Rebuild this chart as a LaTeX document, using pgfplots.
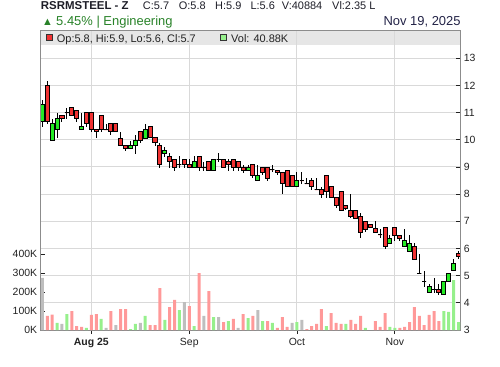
\documentclass[border=0pt]{standalone}
\usepackage{fontspec}
\setmainfont{Liberation Sans}
\usepackage{pgfplots}
\usepackage{pgfplotstable}
\usepgfplotslibrary{statistics}
\pgfplotsset{compat=1.18}

\definecolor{cRed}{RGB}{240,50,50}
\definecolor{cGreen}{RGB}{36,234,36}
\definecolor{vRed}{RGB}{255,153,153}
\definecolor{vGreen}{RGB}{150,240,140}
\definecolor{vGray}{RGB}{190,190,190}
\definecolor{bandGray}{RGB}{230,230,230}
\definecolor{gridGray}{RGB}{217,217,217}
\definecolor{frameGray}{RGB}{140,140,140}
\definecolor{labelCol}{RGB}{34,34,34}
\definecolor{titleCol}{RGB}{30,30,40}
\definecolor{upGreen}{RGB}{40,130,40}
\definecolor{dateCol}{RGB}{34,34,70}

% candles: i O H L C  (close <= open)
\pgfplotstableread{
i O H L C
1 12.00 12.18 10.59 10.68
4 10.88 10.88 10.65 10.77
5 11.00 11.18 10.77 11.00
6 11.18 11.18 10.88 10.88
7 11.07 11.07 10.65 10.77
9 11.00 11.00 10.48 10.59
10 11.00 11.00 10.28 10.37
11 10.37 10.37 10.06 10.30
12 10.88 10.88 10.30 10.37
13 10.37 10.59 10.37 10.37
14 10.59 10.59 10.19 10.30
15 10.59 10.59 10.30 10.30
16 10.06 10.30 9.78 9.78
17 9.78 9.78 9.60 9.67
20 10.30 10.30 9.89 9.97
22 10.48 10.48 10.07 10.07
23 10.07 10.07 9.78 9.89
24 9.78 9.89 8.98 9.09
26 9.38 9.50 8.98 9.19
27 9.28 9.28 8.87 8.98
28 9.09 9.39 8.98 9.09
29 9.28 9.28 8.98 9.09
30 9.09 9.28 8.98 8.98
32 9.39 9.39 8.87 8.98
33 8.98 9.19 8.87 8.98
34 9.19 9.19 8.87 8.87
36 9.28 9.50 9.19 9.28
37 9.28 9.28 8.98 8.98
38 9.19 9.28 8.87 9.09
39 9.28 9.28 8.87 8.98
40 9.20 9.20 8.87 8.98
41 8.98 9.09 8.78 8.87
43 9.09 9.09 8.58 8.69
45 8.98 8.98 8.69 8.80
46 8.98 8.98 8.49 8.58
47 8.90 9.09 8.80 8.90
48 8.87 8.87 8.69 8.80
49 8.80 8.80 7.99 8.39
50 8.87 8.87 8.28 8.28
51 8.69 8.69 8.28 8.28
53 8.50 8.80 8.39 8.50
54 8.39 8.58 8.39 8.39
55 8.50 8.58 8.17 8.28
56 8.17 8.58 8.17 8.17
57 8.17 8.28 7.87 7.99
58 8.69 8.69 7.87 8.10
59 8.28 8.28 7.87 7.87
60 7.87 7.87 7.48 7.59
61 8.10 8.10 7.41 7.41
62 7.59 7.59 7.41 7.48
63 7.41 7.99 7.11 7.19
64 7.41 7.41 7.11 7.11
65 7.19 7.29 6.37 6.59
66 7.00 7.00 6.59 6.70
67 6.89 6.89 6.79 6.79
68 6.72 7.00 6.59 6.60
69 6.50 6.70 6.37 6.50
70 6.79 6.79 5.99 6.06
72 6.79 6.79 6.27 6.48
73 6.48 6.48 6.27 6.37
76 6.08 6.19 5.60 5.60
77 5.08 5.78 5.08 5.08
78 4.79 5.19 4.59 4.79
80 4.50 4.90 4.38 4.50
81 4.50 4.69 4.29 4.38
85 5.80 5.90 5.60 5.70
}\redT

% candles: close > open
\pgfplotstableread{
i O H L C
0 10.68 11.47 10.47 11.29
2 9.97 10.77 9.97 10.59
3 10.37 11.00 10.06 10.77
8 10.37 11.00 10.37 10.48
18 9.67 9.97 9.67 9.78
19 9.78 10.19 9.47 9.97
21 10.06 10.59 10.06 10.37
25 9.50 9.72 9.38 9.61
31 8.98 9.39 8.98 9.19
35 8.87 9.28 8.87 9.28
42 8.87 9.09 8.87 8.98
44 8.50 9.09 8.50 8.69
52 8.28 8.80 8.28 8.50
71 6.19 6.48 6.19 6.37
74 6.08 6.70 6.08 6.30
75 5.88 6.48 5.88 6.19
79 4.38 4.69 4.38 4.59
82 4.29 4.79 4.29 4.79
83 4.79 5.08 4.79 5.08
84 5.19 5.60 5.19 5.45
}\greenT

% volume (thousands)
\pgfplotstableread{
i v
1 75
2 81
6 100
7 21
8 16
10 79
11 84
14 100
16 110
17 110
22 26
23 26
24 221
26 121
27 158
30 126
32 300
34 205
37 42
39 58
41 84
43 74
46 47
48 11
49 68
50 16
54 5
55 21
56 32
57 110
59 89
60 37
61 32
63 53
64 32
65 74
68 47
69 16
70 89
73 11
74 16
75 42
76 121
77 74
78 26
79 79
80 100
81 47
}\volR
\pgfplotstableread{
i v
3 37
5 84
9 11
12 58
18 5
19 32
21 74
25 53
28 105
31 21
35 68
38 47
42 63
45 47
47 37
52 42
58 21
62 32
66 11
71 16
72 11
82 100
83 95
84 263
85 42
}\volG
\pgfplotstableread{
i v
0 275
4 32
13 11
15 26
20 37
29 147
33 74
36 68
40 11
44 105
51 37
53 53
}\volN

\pgfplotstablegetrowsof{\redT}\pgfmathtruncatemacro{\nR}{\pgfplotsretval-1}
\pgfplotstablegetrowsof{\greenT}\pgfmathtruncatemacro{\nG}{\pgfplotsretval-1}

\pgfplotsset{
  candleR/.style={solid, draw=black, line width=1bp, mark=none,
    /pgfplots/boxplot/draw direction=y,
    /pgfplots/boxplot/every box/.style={draw=black, fill=cRed, line width=1bp},
    /pgfplots/boxplot/every whisker/.style={draw=black, line width=1bp},
    /pgfplots/boxplot/every median/.style={draw=black, line width=1bp}},
  candleG/.style={solid, draw=black, line width=1bp, mark=none,
    /pgfplots/boxplot/draw direction=y,
    /pgfplots/boxplot/every box/.style={draw=black, fill=cGreen, line width=1bp},
    /pgfplots/boxplot/every whisker/.style={draw=black, line width=1bp},
    /pgfplots/boxplot/every median/.style={draw=black, line width=1bp}},
  frame/.style={scale only axis, width=419.6bp, height=299.3bp,
    at={(40.7bp,36bp)}, anchor=south west,
    xmin=-0.35, xmax=85.37,
    axis line style={draw=frameGray, line width=1bp},
    tick style={draw=labelCol, line width=0.8bp},
    major tick length=4bp,
    tick label style={font=\fontsize{10.5}{12}\selectfont, text=labelCol}},
}

\begin{document}
\begin{tikzpicture}[x=1bp,y=1bp]
\path[use as bounding box] (0,0) rectangle (500,366);
\fill[bandGray] (40.7,321) rectangle (460.3,335.3);

\begin{axis}[frame,
  boxplot/draw direction=y,
  ymin=3, ymax=14.016,
  xtick={10,30,52,72}, xticklabels={\textbf{Aug 25},Sep,Oct,Nov},
  ytick={3,4,5,6,7,8,9,10,11,12,13},
  yticklabels={3,4,5,6,7,8,9,10,11,12,13},
  ytick pos=right, yticklabel pos=right, xtick pos=bottom,
  ytick align=inside, xtick align=outside,
  grid=major, major grid style={draw=gridGray, line width=1bp},
  xticklabel style={text height=7.6bp, text depth=2bp},
]
\pgfplotsforeachungrouped \r in {0,...,\nR}{%
  \pgfplotstablegetelem{\r}{i}\of\redT \let\cI\pgfplotsretval
  \pgfplotstablegetelem{\r}{O}\of\redT \let\cO\pgfplotsretval
  \pgfplotstablegetelem{\r}{H}\of\redT \let\cH\pgfplotsretval
  \pgfplotstablegetelem{\r}{L}\of\redT \let\cL\pgfplotsretval
  \pgfplotstablegetelem{\r}{C}\of\redT \let\cC\pgfplotsretval
  \edef\doit{\noexpand\addplot[candleR, boxplot prepared={draw direction=y, draw position=\cI, box extend=0.82, whisker extend=0, lower whisker=\cL, lower quartile=\cC, median=\cC, upper quartile=\cO, upper whisker=\cH}] coordinates {};}%
  \doit
}
\pgfplotsforeachungrouped \r in {0,...,\nG}{%
  \pgfplotstablegetelem{\r}{i}\of\greenT \let\cI\pgfplotsretval
  \pgfplotstablegetelem{\r}{O}\of\greenT \let\cO\pgfplotsretval
  \pgfplotstablegetelem{\r}{H}\of\greenT \let\cH\pgfplotsretval
  \pgfplotstablegetelem{\r}{L}\of\greenT \let\cL\pgfplotsretval
  \pgfplotstablegetelem{\r}{C}\of\greenT \let\cC\pgfplotsretval
  \edef\doit{\noexpand\addplot[candleG, boxplot prepared={draw direction=y, draw position=\cI, box extend=0.82, whisker extend=0, lower whisker=\cL, lower quartile=\cO, median=\cO, upper quartile=\cC, upper whisker=\cH}] coordinates {};}%
  \doit
}
\end{axis}

\begin{axis}[frame,
  ymin=0, ymax=1575.3,
  xtick=\empty,
  ytick={0,100,200,300,400}, yticklabels={0K,100K,200K,300K,400K},
  ytick pos=left, ytick align=inside,
  ybar, bar width=3bp,
]
\addplot[draw=none, fill=vRed, bar shift=0pt] table[x=i, y=v] {\volR};
\addplot[draw=none, fill=vGreen, bar shift=0pt] table[x=i, y=v] {\volG};
\addplot[draw=none, fill=vGray, bar shift=0pt] table[x=i, y=v] {\volN};
\end{axis}

% title lines
\node[anchor=base west, inner sep=0, font=\fontsize{11.5}{13}\selectfont\bfseries, text=titleCol] at (40.7,356.4) {RSRMSTEEL - Z};
\begin{scope}[every node/.style={anchor=base west, inner sep=0, font=\fontsize{11}{13}\selectfont, text=titleCol}]
\node at (142.7,356.4) {C:5.7};
\node at (178.7,356.4) {O:5.8};
\node at (215,356.4) {H:5.9};
\node at (250.3,356.4) {L:5.6};
\node at (281.7,356.4) {V:40884};
\node at (332,356.4) {Vl:2.35 L};
\end{scope}
\node[anchor=base west, inner sep=0, font=\fontsize{11}{13}\selectfont, text=upGreen] at (42,340.3) {▲};
\node[anchor=base west, inner sep=0, font=\fontsize{13}{15}\selectfont, text=upGreen] at (56,340.3) {5.45\% | Engineering};
\node[anchor=base east, inner sep=0, font=\fontsize{13}{15}\selectfont, text=dateCol] at (460.8,340.3) {Nov 19, 2025};

% legend in band
\filldraw[fill=cRed, draw=black!80, line width=0.7bp] (46,325.7) rectangle (52,331.7);
\node[anchor=base west, inner sep=0, font=\fontsize{11}{13}\selectfont, text=labelCol] at (56.7,323.9) {Op:5.8, Hi:5.9, Lo:5.6, Cl:5.7};
\filldraw[fill=vGreen, draw=black!80, line width=0.7bp] (220,325.7) rectangle (226.4,331.7);
\node[anchor=base west, inner sep=0, font=\fontsize{11}{13}\selectfont, text=labelCol] at (231,323.9) {Vol: 40.88K};
\end{tikzpicture}
\end{document}
